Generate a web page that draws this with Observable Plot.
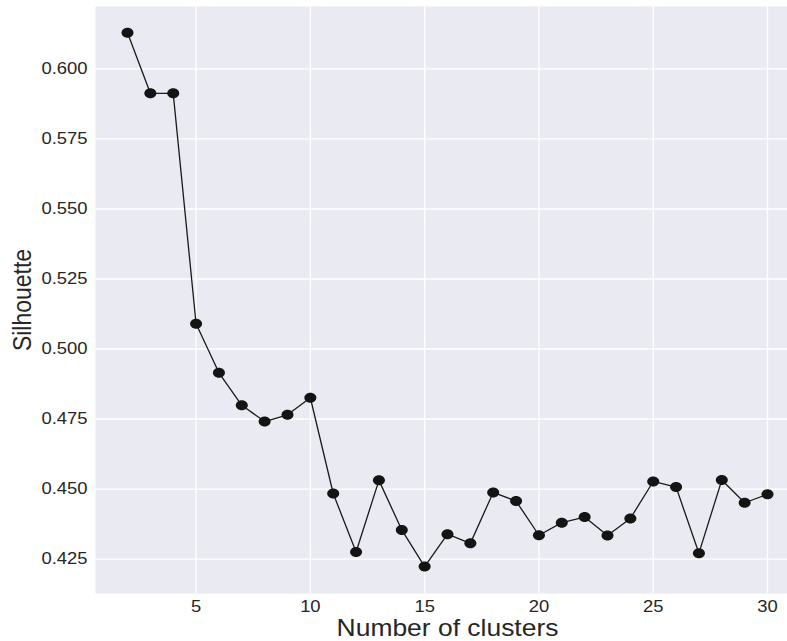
<!DOCTYPE html>
<html>
<head>
<meta charset="utf-8">
<script src="https://cdn.jsdelivr.net/npm/d3@7"></script>
<script src="https://cdn.jsdelivr.net/npm/@observablehq/plot@0.6"></script>
<style>
  html, body { margin: 0; padding: 0; background: #ffffff; }
</style>
</head>
<body>
<div id="chart"></div>
<script>
// Silhouette score for each number of clusters
const clusters = [2, 3, 4, 5, 6, 7, 8, 9, 10, 11, 12, 13, 14, 15, 16,
                  17, 18, 19, 20, 21, 22, 23, 24, 25, 26, 27, 28, 29, 30];
const silhouette = [0.6129, 0.5913, 0.5913, 0.5090, 0.4915, 0.4799, 0.4741, 0.4765,
                    0.4826, 0.4484, 0.4275, 0.4531, 0.4354, 0.4223, 0.4339, 0.4306,
                    0.4488, 0.4457, 0.4335, 0.4380, 0.4400, 0.4334, 0.4395, 0.4527,
                    0.4507, 0.4271, 0.4532, 0.4451, 0.4481];
const xTicks = [5, 10, 15, 20, 25, 30];
const yTicks = [0.425, 0.450, 0.475, 0.500, 0.525, 0.550, 0.575, 0.600];

const data = clusters.map((k, i) => ({k, s: silhouette[i]}));

// Slightly wide elliptical marker
const ellipse = {
  draw(context) {
    const rx = 6, ry = 5, c = 0.5523;
    context.moveTo(rx, 0);
    context.bezierCurveTo(rx, c * ry, c * rx, ry, 0, ry);
    context.bezierCurveTo(-c * rx, ry, -rx, c * ry, -rx, 0);
    context.bezierCurveTo(-rx, -c * ry, -c * rx, -ry, 0, -ry);
    context.bezierCurveTo(c * rx, -ry, rx, -c * ry, rx, 0);
    context.closePath();
  }
};

const font = "'Liberation Sans', Arial, Helvetica, sans-serif";
const ink = "#262626";

const chart = Plot.plot({
  width: 787,
  height: 641,
  marginLeft: 95,
  marginRight: -12,
  marginTop: 6,
  marginBottom: 48,
  style: {fontFamily: font, fontSize: "16px", color: ink, background: "#ffffff", overflow: "hidden"},
  x: {domain: [0.6, 31.4]},
  y: {domain: [0.4127, 0.6223]},
  marks: [
    Plot.frame({fill: "#EAEAF2", stroke: "none"}),
    Plot.gridX(xTicks, {stroke: "#ffffff", strokeOpacity: 1, strokeWidth: 1.3}),
    Plot.gridY(yTicks, {stroke: "#ffffff", strokeOpacity: 1, strokeWidth: 1.3}),
    Plot.axisX(xTicks, {tickSize: 0, tickPadding: 7, label: null, fontSize: 16, fill: ink}),
    Plot.axisY(yTicks, {tickSize: 0, tickPadding: 8, label: null, tickFormat: d3.format(".3f"), fontSize: 16, fill: ink}),
    Plot.axisX([], {label: "Number of clusters", labelAnchor: "center", labelArrow: "none", labelOffset: 42, fontSize: 23, fill: ink}),
    Plot.axisY([], {label: "Silhouette", labelAnchor: "center", labelArrow: "none", labelOffset: 83, fontSize: 23, fill: ink}),
    Plot.line(data, {x: "k", y: "s", stroke: "#1a1a1a", strokeWidth: 1.3}),
    Plot.dot(data, {x: "k", y: "s", symbol: ellipse, r: 5.5, fill: "#141414", stroke: "none"})
  ]
});

// Text is drawn slightly wide, matching the marker proportions
const SX = 1.15;
chart.querySelectorAll("text").forEach(t => {
  const tr = t.getAttribute("transform");
  if (tr && /^translate\([^)]*\)/.test(tr)) {
    t.setAttribute("transform", tr.replace(/^(translate\([^)]*\))/, `$1 scale(${SX},1)`));
  } else {
    const x = +t.getAttribute("x") || 0, y = +t.getAttribute("y") || 0;
    t.removeAttribute("x");
    t.removeAttribute("y");
    t.setAttribute("transform", `translate(${x},${y}) scale(${SX},1)` + (tr ? " " + tr : ""));
  }
});

document.getElementById("chart").appendChild(chart);
</script>
</body>
</html>
